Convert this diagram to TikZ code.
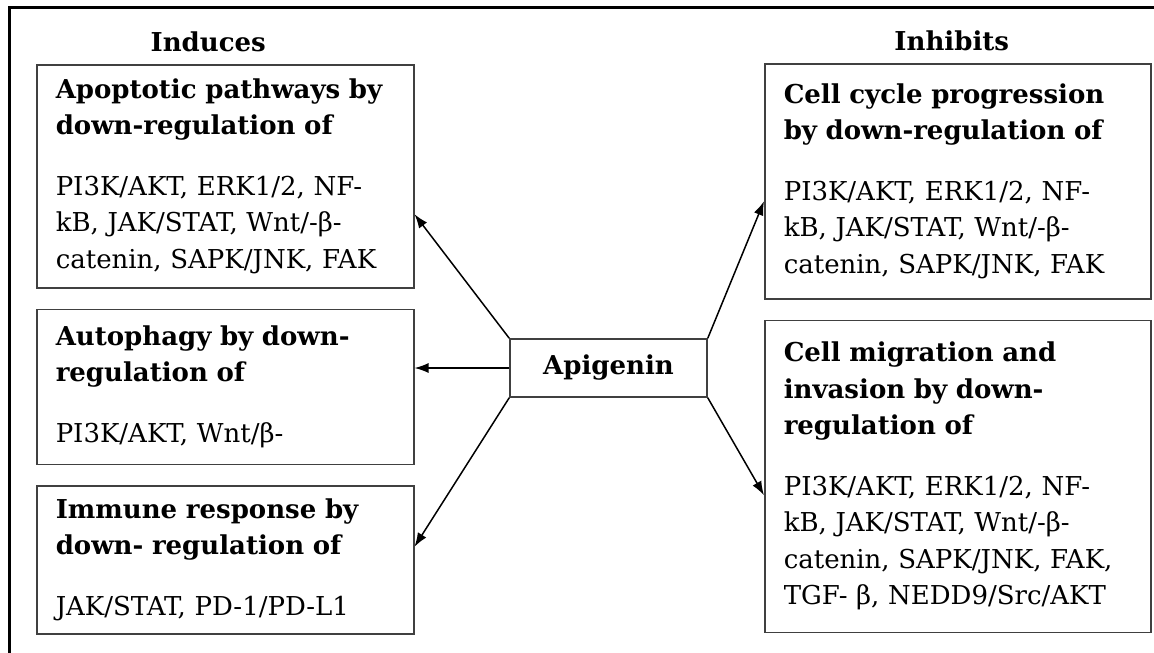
\documentclass[tikz,border=0pt]{standalone}
\usepackage{fontspec}
\setmainfont{DejaVu Serif}
\usetikzlibrary{positioning, arrows.meta}

\begin{document}
\begin{tikzpicture}[
      x=1pt, y=-1pt,
      node distance=20pt,
      font=\fontsize{26}{36.5}\selectfont,
      block/.style={rectangle, draw=black!75, line width=1.5pt,
      text width=339pt, inner xsep=19pt, inner ysep=0pt, align=left},
      rblock/.style={block, text width=348pt},
      head/.style={font=\fontsize{26}{30}\selectfont\bfseries, inner sep=0pt},
      line/.style={draw, -{Latex[length=14pt, width=10pt]}, line width=1.5pt}
    ]
    \useasboundingbox (0,0) rectangle (1154,653);
    \draw [line width=3pt] (9,653) -- (9,7) -- (1154,7);

    % Nodes
    \node [block, minimum height=223pt, anchor=north west] (apop) at (36,64)
      {\bfseries Apoptotic pathways by\\down-regulation of\\[24pt]\mdseries
      PI3K/AKT, ERK1/2, NF-\\kB, JAK/STAT, Wnt/-β-\\catenin, SAPK/JNK, FAK};
    \node [block, minimum height=155pt, below=of apop] (auto)
      {\bfseries Autophagy by down-\\regulation of\\[24pt]\mdseries
      PI3K/AKT, Wnt/β-};
    \node [block, minimum height=148pt, below=of auto] (immune)
      {\bfseries Immune response by\\down- regulation of\\[24pt]\mdseries
      JAK/STAT, PD-1/PD-L1};
    \node [rblock, minimum height=235pt, anchor=north west] (cycle) at (764,63)
      {\bfseries Cell cycle progression\\by down-regulation of\\[24pt]\mdseries
      PI3K/AKT, ERK1/2, NF-\\kB, JAK/STAT, Wnt/-β-\\catenin, SAPK/JNK, FAK};
    \node [rblock, minimum height=312pt, below=of cycle] (migr)
      {\bfseries Cell migration and\\invasion by down-\\regulation of\\[24pt]\mdseries
      PI3K/AKT, ERK1/2, NF-\\kB, JAK/STAT, Wnt/-β-\\catenin, SAPK/JNK, FAK,\\TGF- β, NEDD9/Src/AKT};
    \node [rectangle, draw=black!75, line width=1.5pt, minimum width=197pt,
      minimum height=58pt, font=\fontsize{26}{30}\selectfont\bfseries] (api)
      at (608.5,368) {Apigenin};
    \node [head, above=12pt of apop, xshift=-17pt] (induces) {Induces};
    \node [head, above=12pt of cycle, xshift=-6pt] (inhibits) {Inhibits};

    % Paths
    \path [line] (api.north west) -- ([yshift=-38pt]apop.east);
    \path [line] (api.west) -- (api.west -| auto.east);
    \path [line] (api.south west) -- ([yshift=13pt]immune.east);
    \path [line] (api.north east) -- ([yshift=-20pt]cycle.west);
    \path [line] (api.south east) -- ([yshift=-19pt]migr.west);
  \end{tikzpicture}
\end{document}
